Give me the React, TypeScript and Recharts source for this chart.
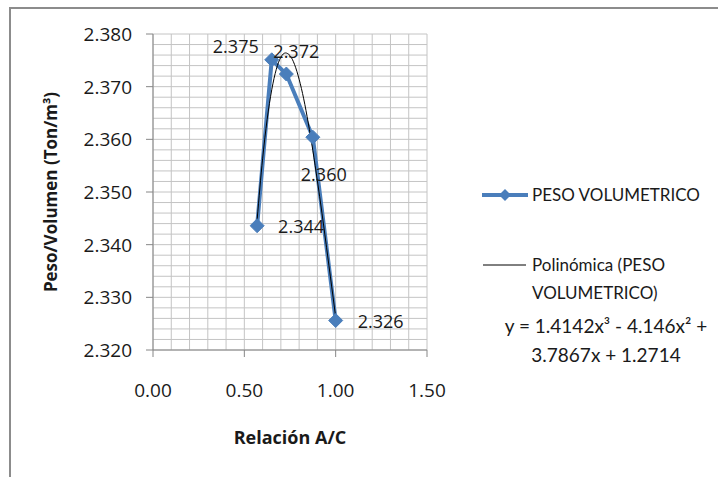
import React from "react";
import {
  ComposedChart,
  Line,
  XAxis,
  YAxis,
  CartesianGrid,
  Legend,
  LabelList,
  Label,
} from "recharts";

// ---- data ----
const ratioAC = [0.57, 0.65, 0.73, 0.875, 1.0];
const pesoVolumetrico = [2.3436, 2.3751, 2.3724, 2.3604, 2.3256];

// polynomial trend line (Polinómica)
const trendX = [0.57, 0.6, 0.625, 0.65, 0.675, 0.7, 0.725, 0.75, 0.775, 0.8, 0.825, 0.85, 0.875, 0.9, 0.925, 0.95, 0.975, 1.0];
const trendY = [2.3447, 2.3563, 2.3638, 2.3694, 2.3733, 2.3756, 2.3764, 2.3759, 2.3742, 2.3714, 2.3677, 2.3631, 2.3579, 2.3521, 2.346, 2.3395, 2.3329, 2.3263];

// labelled (major) ticks
const xTicks = [0, 0.5, 1.0, 1.5];
const yTicks = [2.32, 2.33, 2.34, 2.35, 2.36, 2.37, 2.38];
// minor gridline positions
const xGrid = [0, 0.1, 0.2, 0.3, 0.4, 0.5, 0.6, 0.7, 0.8, 0.9, 1.0, 1.1, 1.2, 1.3, 1.4, 1.5];
const yGrid = [
  2.32, 2.322, 2.324, 2.326, 2.328, 2.33, 2.332, 2.334, 2.336, 2.338, 2.34, 2.342, 2.344, 2.346, 2.348,
  2.35, 2.352, 2.354, 2.356, 2.358, 2.36, 2.362, 2.364, 2.366, 2.368, 2.37, 2.372, 2.374, 2.376, 2.378, 2.38,
];

const seriesName = "PESO VOLUMETRICO";
const trendName = "Polinómica (PESO VOLUMETRICO)";
const equationLines = ["y = 1.4142x³ - 4.146x² +", "3.7867x + 1.2714"];
const xTitle = "Relación A/C";
const yTitle = "Peso/Volumen (Ton/m³)";

const blueData = ratioAC.map((x, i) => ({ x, y: pesoVolumetrico[i] }));
const trendData = trendX.map((x, i) => ({ x, y: trendY[i] }));

// label placement (style)
const labelPlacement = [
  { dx: 21, dy: 0, anchor: "start" },
  { dx: -13, dy: -14, anchor: "end" },
  { dx: -13, dy: -23, anchor: "start" },
  { dx: -12, dy: 37, anchor: "start" },
  { dx: 22, dy: 0, anchor: "start" },
];

const FONT = "'Open Sans', Lato, sans-serif";
const LFONT = "Lato, 'Open Sans', sans-serif";
const BLUE = "#4A7EBB";
const TEXT = "#1a1a1a";
const AXIS = "#868686";

const isMajor = (list: number[], v: number) => list.some((t) => Math.abs(t - v) < 1e-9);

const Diamond = (props: any) => {
  const { cx, cy, index } = props;
  if (cx == null || cy == null) return <g key={`d${index}`} />;
  const r = 7;
  return (
    <path
      key={`d${index}`}
      d={`M${cx},${cy - r}L${cx + r},${cy}L${cx},${cy + r}L${cx - r},${cy}Z`}
      fill={BLUE}
      stroke={BLUE}
      strokeWidth={1}
    />
  );
};

const PointLabel = (props: any) => {
  const { x, y, value, index } = props;
  const p = labelPlacement[index] || { dx: 10, dy: 0, anchor: "start" };
  return (
    <text
      x={x + p.dx}
      y={y + p.dy}
      textAnchor={p.anchor}
      dominantBaseline="central"
      fontFamily={FONT}
      fontSize={18}
      fill={TEXT}
    >
      {Number(value).toFixed(3)}
    </text>
  );
};

const XTick = (props: any) => {
  const { x, y, payload } = props;
  if (!isMajor(xTicks, payload.value)) return <g />;
  return (
    <g>
      <line x1={x} y1={y} x2={x} y2={y + 7} stroke={AXIS} strokeWidth={1} />
      <text x={x} y={y + 40} textAnchor="middle" dominantBaseline="central" fontFamily={FONT} fontSize={19} fill={TEXT}>
        {Number(payload.value).toFixed(2)}
      </text>
    </g>
  );
};

const YTick = (props: any) => {
  const { x, y, payload } = props;
  if (!isMajor(yTicks, payload.value)) return <g />;
  return (
    <g>
      <line x1={x - 7} y1={y} x2={x} y2={y} stroke={AXIS} strokeWidth={1} />
      <text x={x - 21} y={y} textAnchor="end" dominantBaseline="central" fontFamily={FONT} fontSize={19} fill={TEXT}>
        {Number(payload.value).toFixed(3)}
      </text>
    </g>
  );
};

const LegendBox = () => {
  const txt: React.CSSProperties = {
    position: "absolute",
    fontFamily: LFONT,
    fontSize: 17,
    color: TEXT,
    lineHeight: "28px",
    whiteSpace: "nowrap",
  };
  return (
    <div style={{ position: "relative", width: 248, height: 200 }}>
      <svg style={{ position: "absolute", left: 0, top: 0 }} width={70} height={120}>
        <line x1={12} y1={15} x2={58} y2={15} stroke={BLUE} strokeWidth={4} />
        <path d="M35,9L41,15L35,21L29,15Z" fill={BLUE} />
        <line x1={13} y1={85} x2={56} y2={85} stroke="#000" strokeWidth={1} />
      </svg>
      <div style={{ ...txt, left: 62, top: 1 }}>{seriesName}</div>
      <div style={{ ...txt, left: 62, top: 71, whiteSpace: "normal", width: 180 }}>{trendName}</div>
      <div style={{ ...txt, fontSize: 19, left: 0, width: 272, textAlign: "center", top: 131, lineHeight: "29px" }}>
        {equationLines[0]}
        <br />
        {equationLines[1]}
      </div>
    </div>
  );
};

export default function App() {
  return (
    <div
      style={{
        position: "absolute",
        left: 0,
        top: 0,
        width: 718,
        height: 477,
        overflow: "hidden",
        background: "#fff",
      }}
    >
      <div
        style={{
          position: "absolute",
          left: 9,
          top: 7,
          width: 760,
          height: 520,
          border: "2px solid #8c8c8c",
        }}
      />
      <div style={{ position: "absolute", left: 0, top: 0 }}>
        <ComposedChart width={718} height={477} margin={{ top: 34, right: 291, bottom: 67, left: 0 }}>
          <CartesianGrid stroke="#c4c4c4" strokeWidth={1} />
          <XAxis
            type="number"
            dataKey="x"
            domain={[0, 1.5]}
            ticks={xGrid}
            interval={0}
            minTickGap={0}
            allowDataOverflow
            height={60}
            stroke={AXIS}
            tickLine={false}
            tickSize={0}
            tickMargin={0}
            tick={<XTick />}
          >
            <Label
              content={(p: any) => {
                const vb = p.viewBox;
                return (
                  <text
                    x={vb.x + vb.width / 2}
                    y={vb.y + 87}
                    textAnchor="middle"
                    dominantBaseline="central"
                    fontFamily={FONT}
                    fontWeight="bold"
                    fontSize={18}
                    fill={TEXT}
                  >
                    {xTitle}
                  </text>
                );
              }}
            />
          </XAxis>
          <YAxis
            type="number"
            domain={[2.32, 2.38]}
            ticks={yGrid}
            interval={0}
            minTickGap={0}
            allowDataOverflow
            width={153}
            stroke={AXIS}
            tickLine={false}
            tickSize={0}
            tickMargin={0}
            tick={<YTick />}
          >
            <Label
              content={() => (
                <text
                  x={50}
                  y={192}
                  transform="rotate(-90 50 192)"
                  textAnchor="middle"
                  dominantBaseline="central"
                  fontFamily={FONT}
                  fontWeight="bold"
                  fontSize={17}
                  fill={TEXT}
                >
                  {yTitle}
                </text>
              )}
            />
          </YAxis>
          <Legend
            layout="vertical"
            align="center"
            verticalAlign="middle"
            wrapperStyle={{ left: 470, top: 180, width: 248 }}
            content={() => <LegendBox />}
          />
          <Line
            data={blueData}
            dataKey="y"
            name={seriesName}
            stroke={BLUE}
            strokeWidth={4}
            dot={Diamond}
            activeDot={false}
            isAnimationActive={false}
          >
            <LabelList dataKey="y" content={PointLabel} />
          </Line>
          <Line
            data={trendData}
            dataKey="y"
            name={trendName}
            type="monotone"
            stroke="#000"
            strokeWidth={1}
            dot={false}
            activeDot={false}
            isAnimationActive={false}
          />
        </ComposedChart>
      </div>
    </div>
  );
}
